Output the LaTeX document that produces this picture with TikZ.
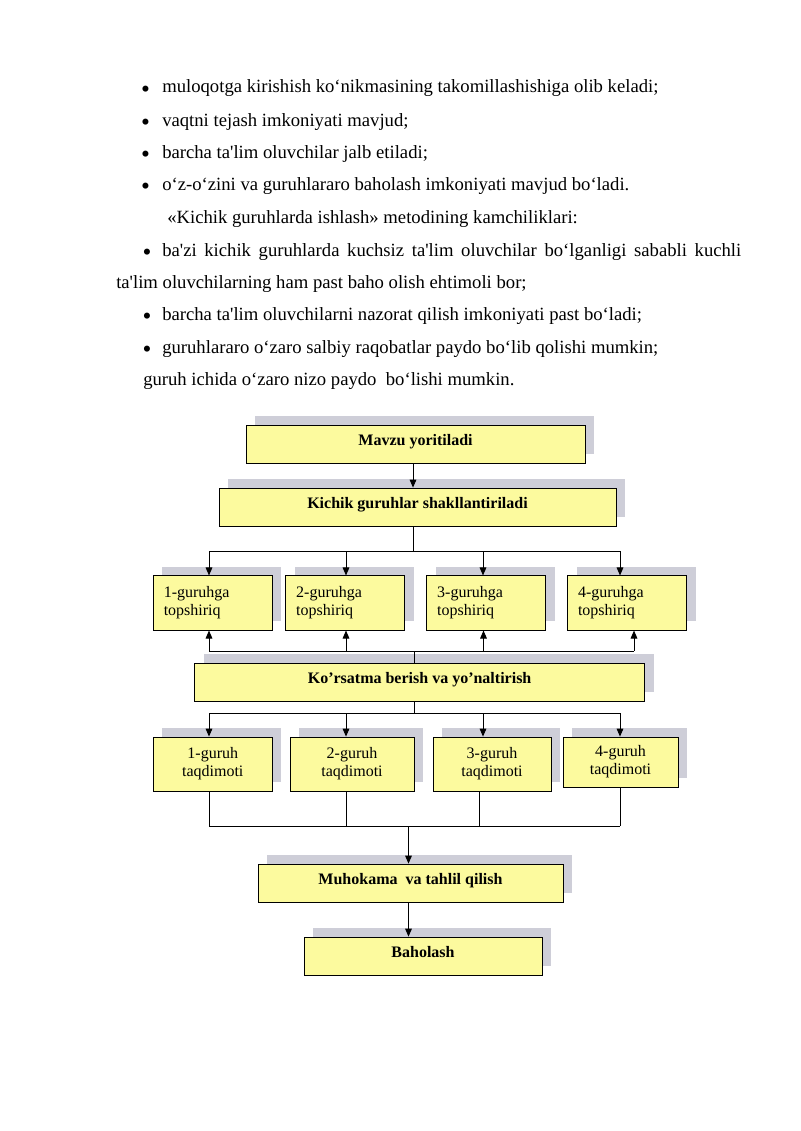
\documentclass[tikz,border=0pt]{standalone}
\usepackage{fontspec}
\setmainfont{Liberation Serif}[Ligatures=TeXOff]
\usetikzlibrary{arrows.meta,shadows}
\definecolor{boxfill}{RGB}{252,250,158}
\definecolor{shadowc}{RGB}{206,206,216}
\tikzset{
  txt/.style={inner sep=0pt, font=\fontsize{14}{16}\selectfont, anchor=base west},
  bul/.style={inner sep=0pt, font=\fontsize{19}{19}\selectfont, anchor=base, yshift=-3.3pt},
  bx/.style={draw=black, line width=0.6pt, fill=boxfill, inner sep=0pt,
    general shadow={fill=shadowc, shadow xshift=6.75pt, shadow yshift=6.75pt}},
  bar/.style={bx, minimum height=28.5pt, font=\fontsize{12}{14}\selectfont\bfseries,
    text height=8.5pt, text depth=6.5pt},
  grpa/.style={bx, minimum height=40.7pt, text width=73.5pt, align=left,
    font=\fontsize{12}{13.5}\selectfont},
  grpb/.style={bx, align=center, font=\fontsize{12}{13.5}\selectfont},
  ln/.style={line width=0.7pt},
  arr/.style={line width=0.7pt, -{Triangle[length=6pt,width=5pt]}}
}
\begin{document}
\begin{tikzpicture}[x=0.75pt,y=-0.75pt]
\useasboundingbox[fill=white] (0,0) rectangle (800,1131);
% body text
\node[bul] (b1) at (145.5,93) {•};
\node[txt] (l1) at (162,93) {muloqotga kirishish ko‘nikmasining takomillashishiga olib keladi;};
\node[bul] (b2) at (145.5,126) {•};
\node[txt] (l2) at (162,126) {vaqtni tejash imkoniyati mavjud;};
\node[bul] (b3) at (145.5,158) {•};
\node[txt] (l3) at (162,158) {barcha ta'lim oluvchilar jalb etiladi;};
\node[bul] (b4) at (145.5,190) {•};
\node[txt] (l4) at (162,190) {o‘z-o‘zini va guruhlararo baholash imkoniyati mavjud bo‘ladi.};
\node[txt] (l5) at (167,223) {«Kichik guruhlarda ishlash» metodining kamchiliklari:};
\node[bul] (b6) at (147,256) {•};
\node[txt] (l6) at (162,256) {\hbox to 434.25pt{ba'zi kichik guruhlarda kuchsiz ta'lim oluvchilar bo‘lganligi sababli kuchli}};
\node[txt] (l7) at (116,288) {ta'lim oluvchilarning ham past baho olish ehtimoli bor;};
\node[bul] (b8) at (147,320) {•};
\node[txt] (l8) at (162,320) {barcha ta'lim oluvchilarni nazorat qilish imkoniyati past bo‘ladi;};
\node[bul] (b9) at (147,353) {•};
\node[txt] (l9) at (162,353) {guruhlararo o‘zaro salbiy raqobatlar paydo bo‘lib qolishi mumkin;};
\node[txt] (l10) at (143,385) {guruh ichida o‘zaro nizo paydo\ \ bo‘lishi mumkin.};
% diagram boxes
\node[bar, minimum width=254.25pt] (mavzu) at (415.5,444) {Mavzu yoritiladi};
\node[bar, minimum width=297.75pt] (kichik) at (417.5,507) {Kichik guruhlar shakllantiriladi};
\node[grpa, minimum width=89.6pt] (r1a) at (212.75,603) {1-guruhga\\topshiriq};
\node[grpa, minimum width=89.25pt] (r1b) at (345.2,603) {2-guruhga\\topshiriq};
\node[grpa, minimum width=89.25pt] (r1c) at (486.2,603) {3-guruhga\\topshiriq};
\node[grpa, minimum width=89.25pt] (r1d) at (627,603) {4-guruhga\\topshiriq};
\node[bar, minimum width=337.5pt] (kors) at (419.6,682) {Ko’rsatma berish va yo’naltirish};
\node[grpb, minimum width=89.6pt, minimum height=40.5pt] (r2a) at (212.75,764) {1-guruh\\taqdimoti};
\node[grpb, minimum width=93pt, minimum height=40.5pt] (r2b) at (352,764) {2-guruh\\taqdimoti};
\node[grpb, minimum width=88.5pt, minimum height=40.5pt] (r2c) at (492,764) {3-guruh\\taqdimoti};
\node[grpb, minimum width=86.25pt, minimum height=37.5pt] (r2d) at (620.5,762) {4-guruh\\taqdimoti};
\node[bar, minimum width=228.75pt] (muh) at (410.5,883) {Muhokama\ \ va tahlil qilish};
\node[bar, minimum width=178.5pt] (bah) at (423,956) {Baholash};
% junction coordinates
\coordinate (ha) at (209,551); \coordinate (hb) at (346,551);
\coordinate (hc) at (483,551); \coordinate (hd) at (620,551);
\coordinate (hk) at (413,551);
\coordinate (ua) at (209,651); \coordinate (ub) at (346,651);
\coordinate (uc) at (483.5,651); \coordinate (ud) at (634,651);
\coordinate (uk) at (414,651);
\coordinate (da) at (209,713); \coordinate (db) at (346,713);
\coordinate (dc) at (483,713); \coordinate (dd) at (620,713);
\coordinate (dk) at (414,713);
\coordinate (ba) at (209,826); \coordinate (bb) at (346,826);
\coordinate (bc) at (479,826); \coordinate (bd) at (620,826);
\coordinate (bm) at (408.5,826);
% connectors
\draw[arr] (mavzu.south -| hk) -- (kichik.north -| hk);
\draw[ln] (kichik.south -| hk) -- (hk);
\draw[ln] (ha) -- (hd);
\draw[arr] (ha) -- (r1a.north -| ha);
\draw[arr] (hb) -- (r1b.north -| hb);
\draw[arr] (hc) -- (r1c.north -| hc);
\draw[arr] (hd) -- (r1d.north -| hd);
\draw[ln] (kors.north -| uk) -- (uk);
\draw[ln] (ua) -- (ud);
\draw[arr] (ua) -- (r1a.south -| ua);
\draw[arr] (ub) -- (r1b.south -| ub);
\draw[arr] (uc) -- (r1c.south -| uc);
\draw[arr] (ud) -- (r1d.south -| ud);
\draw[ln] (kors.south -| dk) -- (dk);
\draw[ln] (da) -- (dd);
\draw[arr] (da) -- (r2a.north -| da);
\draw[arr] (db) -- (r2b.north -| db);
\draw[arr] (dc) -- (r2c.north -| dc);
\draw[arr] (dd) -- (r2d.north -| dd);
\draw[ln] (r2a.south -| ba) -- (ba);
\draw[ln] (r2b.south -| bb) -- (bb);
\draw[ln] (r2c.south -| bc) -- (bc);
\draw[ln] (r2d.south -| bd) -- (bd);
\draw[ln] (ba) -- (bd);
\draw[arr] (bm) -- (muh.north -| bm);
\draw[arr] (muh.south -| bm) -- (bah.north -| bm);
\end{tikzpicture}
\end{document}
